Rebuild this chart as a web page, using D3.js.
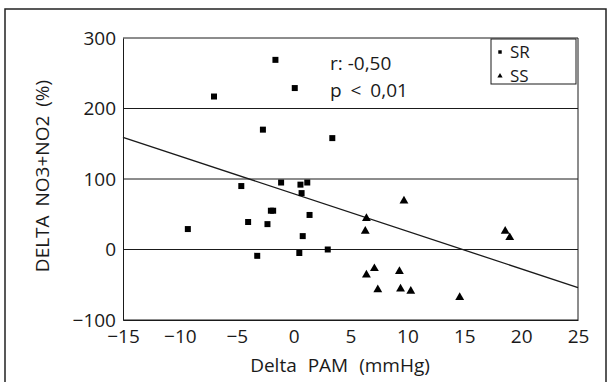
<!DOCTYPE html>
<html>
<head>
<meta charset="utf-8">
<script src="https://cdn.jsdelivr.net/npm/d3@7"></script>
<style>
  html, body { margin: 0; padding: 0; background: #fff; }
  svg { display: block; font-family: "Open Sans", Lato, sans-serif; }
</style>
</head>
<body>
<div id="chart"></div>
<script>
// SR group (squares): Delta PAM (mmHg), Delta NO3+NO2 (%)
const srX = [-1.6, 0.1, -7.0, -2.7, 3.4, -4.6, -1.1, 0.6, 1.2, 0.7, -2.0, -1.8, 1.4, -4.0, -2.3, -9.3, 0.8, 3.0, 0.5, -3.2];
const srY = [269, 229, 217, 170, 158, 90, 95, 92, 95, 80, 55, 55, 49, 39, 36, 29, 19, 0, -5, -9];
// SS group (triangles)
const ssX = [9.7, 6.4, 6.3, 18.6, 19.0, 7.1, 6.4, 9.3, 7.4, 9.4, 10.3, 14.6];
const ssY = [69, 44, 26, 26, 17, -27, -36, -31, -57, -56, -59, -68];
// regression line end points
const fitX = [-15, 25];
const fitY = [159, -54];

const xTicks = [-15, -10, -5, 0, 5, 10, 15, 20, 25];
const yTicks = [-100, 0, 100, 200, 300];
const groups = ['SR', 'SS'];

const width = 611, height = 382;
const margin = { left: 123, right: 33, top: 38, bottom: 62 };
const fontSize = '19px';
const ink = '#1a1a1a';

const svg = d3.select('#chart').append('svg')
  .attr('width', width)
  .attr('height', height);

// outer frame (bottom edge runs off the picture)
svg.append('rect')
  .attr('x', 5).attr('y', 9)
  .attr('width', 601).attr('height', 390)
  .attr('fill', 'none')
  .attr('stroke', '#222')
  .attr('stroke-width', 1.5);

const x = d3.scaleLinear().domain([-15, 25]).range([margin.left, width - margin.right]);
const y = d3.scaleLinear().domain([-100, 300]).range([height - margin.bottom, margin.top]);

// gridlines
svg.append('g')
  .selectAll('line')
  .data(yTicks)
  .enter()
  .append('line')
  .attr('x1', x(-15)).attr('x2', x(25))
  .attr('y1', d => y(d)).attr('y2', d => y(d))
  .attr('stroke', ink)
  .attr('stroke-width', 1);

// y axis
const yAxis = svg.append('g')
  .attr('transform', `translate(${x(-15)},0)`)
  .call(d3.axisLeft(y).tickValues(yTicks).tickSize(0).tickPadding(7));
yAxis.select('.domain').attr('stroke', ink);
yAxis.selectAll('text')
  .attr('font-size', fontSize)
  .attr('font-family', '"Open Sans", sans-serif')
  .attr('fill', ink);

// x axis
const xAxis = svg.append('g')
  .attr('transform', `translate(0,${y(-100)})`)
  .call(d3.axisBottom(x).tickValues(xTicks).tickSize(0).tickPadding(10));
xAxis.select('.domain').attr('stroke', ink);
xAxis.selectAll('text')
  .attr('font-size', fontSize)
  .attr('font-family', '"Open Sans", sans-serif')
  .attr('fill', ink);

// right border
svg.append('line')
  .attr('x1', x(25)).attr('x2', x(25))
  .attr('y1', y(300)).attr('y2', y(-100))
  .attr('stroke', ink);

// axis titles
svg.append('text')
  .attr('x', 340).attr('y', 372)
  .attr('text-anchor', 'middle')
  .attr('font-size', fontSize)
  .attr('fill', ink)
  .attr('word-spacing', '6px')
  .text('Delta PAM (mmHg)');

svg.append('text')
  .attr('transform', 'translate(49,176) rotate(-90)')
  .attr('text-anchor', 'middle')
  .attr('font-size', fontSize)
  .attr('fill', ink)
  .attr('word-spacing', '4px')
  .text('DELTA NO3+NO2 (%)');

// regression line
svg.append('line')
  .attr('x1', x(fitX[0])).attr('y1', y(fitY[0]))
  .attr('x2', x(fitX[1])).attr('y2', y(fitY[1]))
  .attr('stroke', ink)
  .attr('stroke-width', 1.3);

// points
const sr = srX.map((d, i) => ({ x: d, y: srY[i] }));
const ss = ssX.map((d, i) => ({ x: d, y: ssY[i] }));

svg.append('g')
  .selectAll('path')
  .data(sr)
  .enter()
  .append('path')
  .attr('d', d3.symbol().type(d3.symbolSquare).size(36))
  .attr('transform', d => `translate(${x(d.x)},${y(d.y)})`)
  .attr('fill', '#000');

svg.append('g')
  .selectAll('path')
  .data(ss)
  .enter()
  .append('path')
  .attr('d', d3.symbol().type(d3.symbolTriangle).size(34))
  .attr('transform', d => `translate(${x(d.x)},${y(d.y)})`)
  .attr('fill', '#000');

// stats annotation
svg.append('text')
  .attr('x', 330).attr('y', 70)
  .attr('font-size', fontSize)
  .attr('fill', ink)
  .text('r: -0,50');
svg.append('text')
  .attr('x', 330).attr('y', 97)
  .attr('font-size', fontSize)
  .attr('fill', ink)
  .attr('word-spacing', '4px')
  .text('p < 0,01');

// legend
const legend = svg.append('g');
legend.append('rect')
  .attr('x', 491).attr('y', 39)
  .attr('width', 85).attr('height', 45)
  .attr('fill', '#fff')
  .attr('stroke', ink);
legend.append('path')
  .attr('d', d3.symbol().type(d3.symbolSquare).size(12))
  .attr('transform', 'translate(500,52)');
legend.append('path')
  .attr('d', d3.symbol().type(d3.symbolTriangle).size(12))
  .attr('transform', 'translate(500,76)');
legend.selectAll('.lg')
  .data(groups)
  .enter()
  .append('text')
  .attr('class', 'lg')
  .attr('x', 510)
  .attr('y', (d, i) => 58 + i * 24)
  .attr('font-size', '17px')
  .attr('fill', ink)
  .text(d => d);
</script>
</body>
</html>
